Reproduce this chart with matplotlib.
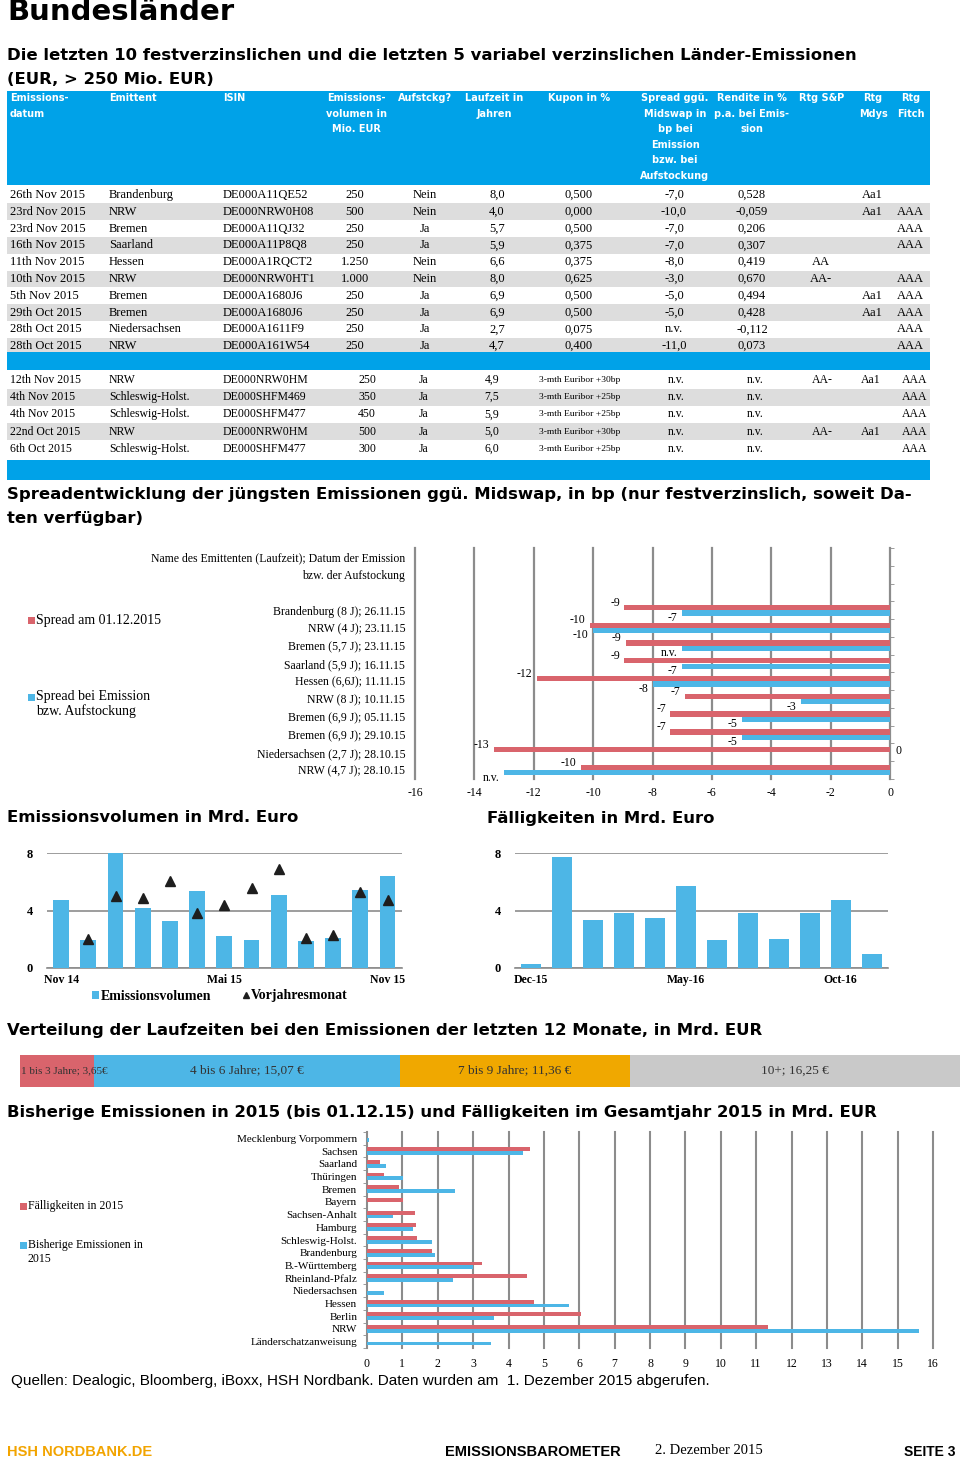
import matplotlib
matplotlib.use("Agg")
import matplotlib.pyplot as plt
from matplotlib.patches import Rectangle
import numpy as np

W, H = 960, 1462
SANS = "Liberation Sans"
HEAVY = "DejaVu Sans"
SERIF = "Liberation Serif"
HEAD_BLUE = "#00A2E8"
BLUE = "#4DB6E6"
RED = "#D9646C"
ORANGE = "#F0A800"
ROW_GRAY = "#DDDDDD"
GRID = "#8C8C8C"

# ---- Tabelle: festverzinsliche Emissionen
head_labels = ["Emissions-\ndatum", "Emittent", "ISIN", "Emissions-\nvolumen in\nMio. EUR", "Aufstckg?",
               "Laufzeit in\nJahren", "Kupon in %",
               "Spread ggü.\nMidswap in\nbp bei\nEmission\nbzw. bei\nAufstockung",
               "Rendite in %\np.a. bei Emis-\nsion", "Rtg S&P", "Rtg\nMdys", "Rtg\nFitch"]
fix_date = ["26th Nov 2015", "23rd Nov 2015", "23rd Nov 2015", "16th Nov 2015", "11th Nov 2015",
            "10th Nov 2015", "5th Nov 2015", "29th Oct 2015", "28th Oct 2015", "28th Oct 2015"]
fix_issuer = ["Brandenburg", "NRW", "Bremen", "Saarland", "Hessen", "NRW", "Bremen", "Bremen",
              "Niedersachsen", "NRW"]
fix_isin = ["DE000A11QE52", "DE000NRW0H08", "DE000A11QJ32", "DE000A11P8Q8", "DE000A1RQCT2",
            "DE000NRW0HT1", "DE000A1680J6", "DE000A1680J6", "DE000A1611F9", "DE000A161W54"]
fix_volume = ["250", "500", "250", "250", "1.250", "1.000", "250", "250", "250", "250"]
fix_tap = ["Nein", "Nein", "Ja", "Ja", "Nein", "Nein", "Ja", "Ja", "Ja", "Ja"]
fix_term = ["8,0", "4,0", "5,7", "5,9", "6,6", "8,0", "6,9", "6,9", "2,7", "4,7"]
fix_coupon = ["0,500", "0,000", "0,500", "0,375", "0,375", "0,625", "0,500", "0,500", "0,075", "0,400"]
fix_spread = ["-7,0", "-10,0", "-7,0", "-7,0", "-8,0", "-3,0", "-5,0", "-5,0", "n.v.", "-11,0"]
fix_yield = ["0,528", "-0,059", "0,206", "0,307", "0,419", "0,670", "0,494", "0,428", "-0,112", "0,073"]
fix_sp = ["", "", "", "", "AA", "AA-", "", "", "", ""]
fix_mdys = ["Aa1", "Aa1", "", "", "", "", "Aa1", "Aa1", "", ""]
fix_fitch = ["", "AAA", "AAA", "AAA", "", "AAA", "AAA", "AAA", "AAA", "AAA"]

# ---- Tabelle: variabel verzinsliche Emissionen
flt_date = ["12th Nov 2015", "4th Nov 2015", "4th Nov 2015", "22nd Oct 2015", "6th Oct 2015"]
flt_issuer = ["NRW", "Schleswig-Holst.", "Schleswig-Holst.", "NRW", "Schleswig-Holst."]
flt_isin = ["DE000NRW0HM", "DE000SHFM469", "DE000SHFM477", "DE000NRW0HM", "DE000SHFM477"]
flt_volume = ["250", "350", "450", "500", "300"]
flt_tap = ["Ja", "Ja", "Ja", "Ja", "Ja"]
flt_term = ["4,9", "7,5", "5,9", "5,0", "6,0"]
flt_coupon = ["3-mth Euribor +30bp", "3-mth Euribor +25bp", "3-mth Euribor +25bp",
              "3-mth Euribor +30bp", "3-mth Euribor +25bp"]
flt_spread = ["n.v."] * 5
flt_yield = ["n.v."] * 5
flt_sp = ["AA-", "", "", "AA-", ""]
flt_mdys = ["Aa1", "", "", "Aa1", ""]
flt_fitch = ["AAA", "AAA", "AAA", "AAA", "AAA"]

# ---- Spreadentwicklung
spread_header = ["Name des Emittenten (Laufzeit); Datum der Emission", "bzw. der Aufstockung", ""]
spread_issuers = ["Brandenburg (8 J); 26.11.15", "NRW (4 J); 23.11.15", "Bremen (5,7 J); 23.11.15",
                  "Saarland (5,9 J); 16.11.15", "Hessen (6,6J); 11.11.15", "NRW (8 J); 10.11.15",
                  "Bremen (6,9 J); 05.11.15", "Bremen (6,9 J); 29.10.15",
                  "Niedersachsen (2,7 J); 28.10.15", "NRW (4,7 J); 28.10.15"]
spread_now = [-8.95, -10.1, -8.9, -8.95, -11.9, -6.9, -7.4, -7.4, -13.35, -10.4]
spread_issue = [-7.0, -10.0, -7.0, -7.0, -8.0, -3.0, -5.0, -5.0, 0.0, -13.0]
spread_now_txt = ["-9", "-10", "-9", "-9", "-12", "-7", "-7", "-7", "-13", "-10"]
spread_issue_txt = ["-7", "-10", "n.v.", "-7", "-8", "-3", "-5", "-5", "0", "n.v."]

# ---- Emissionsvolumen (Nov 14 - Nov 15) und Fälligkeiten (Dec-15 - Nov-16)
vol_months = ["Nov 14", "", "", "", "", "", "Mai 15", "", "", "", "", "", "Nov 15"]
vol_values = [4.7, 1.95, 8.0, 4.15, 3.25, 5.35, 2.2, 1.95, 5.05, 1.85, 2.1, 5.45, 6.4]
vol_prev_year = [np.nan, 2.0, 5.0, 4.9, 6.05, 3.8, 4.35, 5.6, 6.9, 2.1, 2.3, 5.3, 4.7]
mat_months = ["Dec-15", "", "", "", "", "May-16", "", "", "", "", "Oct-16", ""]
mat_values = [0.3, 7.75, 3.35, 3.85, 3.45, 5.7, 1.95, 3.8, 2.05, 3.8, 4.7, 1.0]

# ---- Verteilung der Laufzeiten
term_buckets = ["1 bis 3 Jahre; 3,65€", "4 bis 6 Jahre; 15,07 €", "7 bis 9 Jahre; 11,36 €", "10+; 16,25 €"]
term_values = [3.65, 15.07, 11.36, 16.25]
term_colors = [RED, BLUE, ORANGE, "#C9C9C9"]

# ---- Emissionen / Fälligkeiten 2015 je Land
states = ["Mecklenburg Vorpommern", "Sachsen", "Saarland", "Thüringen", "Bremen", "Bayern",
          "Sachsen-Anhalt", "Hamburg", "Schleswig-Holst.", "Brandenburg", "B.-Württemberg",
          "Rheinland-Pfalz", "Niedersachsen", "Hessen", "Berlin", "NRW", "Länderschatzanweisung"]
maturities_2015 = [0.0, 4.6, 0.38, 0.49, 0.9, 1.02, 1.36, 1.38, 1.4, 1.83, 3.25, 4.52, 0.0,
                   4.72, 6.05, 11.33, 0.0]
issues_2015 = [0.07, 4.42, 0.55, 1.02, 2.5, 0.0, 0.74, 1.3, 1.84, 1.93, 3.0, 2.43, 0.47,
               5.71, 3.58, 15.6, 3.5]


fig = plt.figure(figsize=(W / 100, H / 100), dpi=100)


def fx(x):
    return x / W


def fy(y):
    return 1 - y / H


def ftext(x, y, s, **kw):
    fig.text(fx(x), fy(y), s, **kw)


def heading(x, y, s):
    ftext(x, y, s, family=HEAVY, weight="bold", size=11.85, va="center")


def frect(x0, y0, x1, y1, color):
    fig.patches.append(Rectangle((fx(x0), fy(y1)), (x1 - x0) / W, (y1 - y0) / H,
                                 transform=fig.transFigure, color=color, zorder=0, lw=0))


def px_axes(x0, y0, x1, y1):
    return fig.add_axes([fx(x0), fy(y1), (x1 - x0) / W, (y1 - y0) / H])


def legend_square(x, y, color, lines, size=10):
    frect(x, y - 3.5, x + 7, y + 3.5, color)
    for k, line in enumerate(lines.split("\n")):
        ftext(x + 8, y + k * 14, line, family=SERIF, size=size, va="center")


# ---------------- Überschriften
ftext(7, 12, "Bundesländer", family=HEAVY, weight="bold", size=21, va="center")
heading(7, 55, "Die letzten 10 festverzinslichen und die letzten 5 variabel verzinslichen Länder-Emissionen")
heading(7, 79, "(EUR, > 250 Mio. EUR)")

# ---------------- Tabelle
frect(7, 91, 930, 185, HEAD_BLUE)
head_x = [10, 109, 223, 356, 425, 494, 579, 675, 752, 822, 873, 911]
head_ha = ["left", "left", "left", "center", "center", "center", "center", "center", "center",
           "center", "center", "center"]
for lab, x, ha in zip(head_labels, head_x, head_ha):
    for k, line in enumerate(lab.split("\n")):
        ftext(x, 98 + k * 15.6, line, family=HEAVY, weight="bold", size=7, color="white",
              ha=ha, va="center")

fix_cols = [fix_date, fix_issuer, fix_isin, fix_volume, fix_tap, fix_term, fix_coupon,
            fix_spread, fix_yield, fix_sp, fix_mdys, fix_fitch]
fix_x = [10, 109, 223, 355, 425, 497, 579, 674, 752, 821, 872, 910]
for i in range(len(fix_date)):
    y = 195 + i * 16.8
    if i % 2 == 1:
        frect(7, y - 8.4, 930, y + 8.4, ROW_GRAY)
    for col, x, ha in zip(fix_cols, fix_x, head_ha):
        ftext(x, y, col[i], family=SERIF, size=9, ha=ha, va="center")
frect(7, 352, 930, 354, HEAD_BLUE)
frect(7, 354, 930, 370, HEAD_BLUE)

flt_cols = [flt_date, flt_issuer, flt_isin, flt_volume, flt_tap, flt_term, flt_coupon,
            flt_spread, flt_yield, flt_sp, flt_mdys, flt_fitch]
flt_x = [10, 109, 223, 367, 424, 492, 580, 676, 755, 822, 871, 915]
for i in range(len(flt_date)):
    y = 380 + i * 17.2
    if i % 2 == 1:
        frect(7, y - 8.6, 930, y + 8.6, ROW_GRAY)
    for j, (col, x, ha) in enumerate(zip(flt_cols, flt_x, head_ha)):
        size = 6.8 if j == 6 else 8.5
        ftext(x, y, col[i], family=SERIF, size=size, ha=ha, va="center")
frect(7, 460, 930, 480, HEAD_BLUE)

# ---------------- Spreadentwicklung
heading(7, 494, "Spreadentwicklung der jüngsten Emissionen ggü. Midswap, in bp (nur festverzinslich, soweit Da-")
heading(7, 518, "ten verfügbar)")

ax = px_axes(415, 548, 890, 779)
cats = spread_header + spread_issuers
ypos = np.arange(len(spread_header), len(cats))
h = 0.3
ax.barh(ypos - h / 2, spread_now, height=h, color=RED, zorder=3)
ax.barh(ypos + h / 2, spread_issue, height=h, color=BLUE, zorder=3)
for y, v, t in zip(ypos, spread_now, spread_now_txt):
    ax.text(v - 0.15, y - h - 0.12, t, family=SERIF, size=8.5, ha="right", va="center")
for y, v, t in zip(ypos, spread_issue, spread_issue_txt):
    if v >= 0:
        ax.text(v + 0.2, y + h / 2 - 0.2, t, family=SERIF, size=8.5, ha="left", va="center",
                clip_on=False)
    else:
        ax.text(v - 0.15, y + h + 0.12, t, family=SERIF, size=8.5, ha="right", va="center")
ax.set_xlim(-16, 0)
ax.set_ylim(len(cats) - 0.5, -0.5)
xt = np.arange(-16, 1, 2)
ax.set_xticks(xt)
ax.set_xticklabels([str(v) for v in xt], family=SERIF, size=8.5)
for v in xt[:-1]:
    ax.axvline(v, color=GRID, lw=1.6, zorder=1, clip_on=False)
ax.set_yticks(np.arange(len(cats)))
ax.set_yticklabels(cats, family=SERIF, size=8.5)
ax.set_yticks(np.arange(-0.5, len(cats), 1), minor=True)
ax.tick_params(which="major", axis="y", length=0, pad=7)
ax.tick_params(which="major", axis="x", length=0, pad=6)
ax.tick_params(which="minor", axis="y", left=False, right=True, length=3, color=GRID)
for s in ["top", "bottom", "left"]:
    ax.spines[s].set_visible(False)
ax.spines["right"].set_color(GRID)
ax.spines["right"].set_linewidth(1.6)
legend_square(28, 621, RED, "Spread am 01.12.2015", size=10)
legend_square(28, 697, BLUE, "Spread bei Emission\nbzw. Aufstockung", size=10)

# ---------------- Emissionsvolumen / Fälligkeiten
heading(7, 818, "Emissionsvolumen in Mrd. Euro")
heading(487, 818, "Fälligkeiten in Mrd. Euro")


def month_chart(box, values, months, width):
    a = px_axes(*box)
    x = np.arange(len(values))
    bars = a.bar(x, values, width=width, color=BLUE, zorder=3)
    a.set_ylim(0, 8)
    a.set_xlim(-0.52, len(values) - 0.47)
    a.set_yticks([0, 4, 8])
    a.set_yticklabels(["0", "4", "8"], family=SERIF, weight="bold", size=9)
    a.set_xticks(x)
    a.set_xticklabels(months, family=SERIF, weight="bold", size=8.5)
    a.tick_params(length=0)
    a.tick_params(axis="y", pad=10)
    a.tick_params(axis="x", pad=4)
    a.yaxis.grid(True, color=GRID, lw=1.2)
    a.set_axisbelow(True)
    for s in ["top", "right", "left"]:
        a.spines[s].set_visible(False)
    a.spines["bottom"].set_color(GRID)
    a.spines["bottom"].set_linewidth(1.2)
    return a, bars


ax_v, bars_v = month_chart((47, 853, 402, 968), vol_values, vol_months, 0.58)
tri, = ax_v.plot(np.arange(len(vol_prev_year)), np.array(vol_prev_year, dtype=float), "^",
                 color="#1E1E1E", ms=7, ls="none", zorder=4)
leg = ax_v.legend([bars_v, tri], ["Emissionsvolumen", "Vorjahresmonat"], ncol=2, frameon=False,
                  loc="center", bbox_to_anchor=(fx(220), fy(996)), bbox_transform=fig.transFigure,
                  prop={"family": SERIF, "weight": "bold", "size": 10}, handlelength=0.5,
                  handleheight=0.5, handletextpad=0.15, columnspacing=2.2, borderaxespad=0,
                  markerscale=0.6)

month_chart((515, 853, 888, 968), mat_values, mat_months, 0.65)

# ---------------- Verteilung der Laufzeiten
heading(7, 1030, "Verteilung der Laufzeiten bei den Emissionen der letzten 12 Monate, in Mrd. EUR")
ax_d = px_axes(20, 1055, 960, 1087)
left = 0.0
for lab, v, c in zip(term_buckets, term_values, term_colors):
    ax_d.barh([0], [v], left=left, height=1.0, color=c)
    if left == 0:
        ax_d.text(left + 0.05, 0, lab, family=SERIF, size=8, ha="left", va="center", color="#333333")
    else:
        ax_d.text(left + v / 2, 0, lab, family=SERIF, size=9.5, ha="center", va="center",
                  color="#333333")
    left += v
ax_d.set_xlim(0, sum(term_values))
ax_d.set_ylim(-0.5, 0.5)
ax_d.axis("off")

# ---------------- Emissionen und Fälligkeiten 2015
heading(7, 1112, "Bisherige Emissionen in 2015 (bis 01.12.15) und Fälligkeiten im Gesamtjahr 2015 in Mrd. EUR")
ax_b = px_axes(367, 1132, 933, 1348)
yb = np.arange(len(states))
ax_b.barh(yb - h / 2, maturities_2015, height=h, color=RED, zorder=3)
ax_b.barh(yb + h / 2, issues_2015, height=h, color=BLUE, zorder=3)
ax_b.set_xlim(0, 16)
ax_b.set_ylim(len(states) - 0.5, -0.5)
ax_b.set_xticks(np.arange(0, 17))
ax_b.set_xticklabels([str(v) for v in range(17)], family=SERIF, size=8.5)
for v in range(1, 17):
    ax_b.axvline(v, color=GRID, lw=1.5, zorder=1, clip_on=False)
ax_b.set_yticks(yb)
ax_b.set_yticklabels(states, family=SERIF, size=8)
ax_b.set_yticks(np.arange(-0.5, len(states), 1), minor=True)
ax_b.tick_params(which="major", length=0)
ax_b.tick_params(which="major", axis="y", pad=7)
ax_b.tick_params(which="major", axis="x", pad=7)
ax_b.tick_params(which="minor", axis="y", left=True, length=3, color=GRID)
for s in ["top", "right", "bottom"]:
    ax_b.spines[s].set_visible(False)
ax_b.spines["left"].set_color(GRID)
ax_b.spines["left"].set_linewidth(1.5)
legend_square(20, 1206, RED, "Fälligkeiten in 2015", size=8.5)
legend_square(20, 1245, BLUE, "Bisherige Emissionen in\n2015", size=8.5)

ftext(11, 1381, "Quellen: Dealogic, Bloomberg, iBoxx, HSH Nordbank. Daten wurden am  1. Dezember 2015 abgerufen.",
      family=SANS, size=11, va="center")

# ---------------- Fußzeile
ftext(7, 1452, "HSH NORDBANK.DE", family=SANS, weight="bold", size=10.5, color="#F2A400", va="center")
ftext(445, 1452, "EMISSIONSBAROMETER", family=SANS, weight="bold", size=10.5, va="center")
ftext(655, 1451, "2. Dezember 2015", family=SERIF, size=10.5, va="center")
ftext(955, 1452, "SEITE 3", family=SANS, weight="bold", size=10, ha="right", va="center")

fig.savefig("out.png", dpi=100)
